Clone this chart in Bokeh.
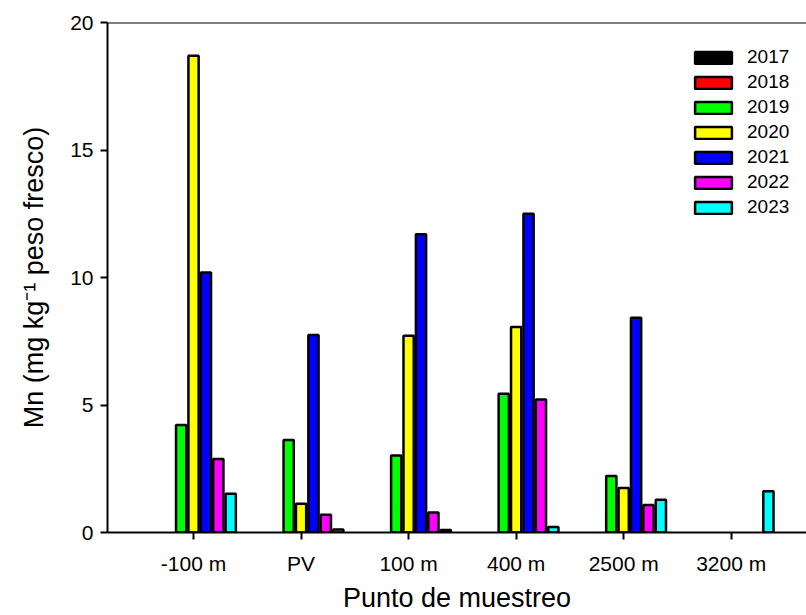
import numpy as np
from bokeh.plotting import figure
from bokeh.models import Range1d, FixedTicker, Span, Legend, LegendItem
from bokeh.embed import file_html
from bokeh.resources import INLINE

# ---- data ----
sites = ["-100 m", "PV", "100 m", "400 m", "2500 m", "3200 m"]
years = ["2017", "2018", "2019", "2020", "2021", "2022", "2023"]
nan = float("nan")
mn_2017 = [nan, nan, nan, nan, nan, nan]
mn_2018 = [nan, nan, nan, nan, nan, nan]
mn_2019 = [4.22, 3.63, 3.02, 5.44, 2.22, nan]
mn_2020 = [18.70, 1.13, 7.72, 8.06, 1.75, nan]
mn_2021 = [10.20, 7.75, 11.70, 12.50, 8.42, nan]
mn_2022 = [2.88, 0.70, 0.78, 5.22, 1.08, nan]
mn_2023 = [1.52, 0.12, 0.10, 0.22, 1.28, 1.62]
series = [mn_2017, mn_2018, mn_2019, mn_2020, mn_2021, mn_2022, mn_2023]
colors = ["#000000", "#ff0000", "#00ff00", "#ffff00", "#0000ff", "#ff00ff", "#00ffff"]

FONT = "Liberation Sans"

p = figure(width=806, height=615, output_backend="svg", toolbar_location=None,
           x_range=Range1d(0.2, 6.7), y_range=Range1d(0, 20),
           min_border_left=107, min_border_right=0, min_border_top=22,
           min_border_bottom=82)
p.outline_line_color = None
p.grid.grid_line_color = None
p.background_fill_color = "white"

pos = np.arange(1, len(sites) + 1)
pitch = 0.1153
bw = 0.095
items = []
for i, (yr, vals, c) in enumerate(zip(years, series, colors)):
    xs = pos + (i - 3) * pitch
    r = p.vbar(x=xs, top=vals, bottom=0, width=bw, fill_color=c,
               line_color="black", line_width=2.5)
    items.append(LegendItem(label=yr, renderers=[r]))

legend = Legend(items=items, location=(583, 314), padding=0, margin=0,
                border_line_color=None, background_fill_alpha=0,
                glyph_width=46, glyph_height=15, spacing=3, label_standoff=11,
                label_text_font=FONT, label_text_font_size="19px",
                label_text_color="black")
p.add_layout(legend, "center")

p.add_layout(Span(location=20, dimension="width", line_color="black", line_width=2))

p.xaxis.ticker = FixedTicker(ticks=list(pos))
p.xaxis.major_label_overrides = {int(k): s for k, s in zip(pos, sites)}
p.yaxis.ticker = FixedTicker(ticks=[0, 5, 10, 15, 20])

for ax in (p.xaxis, p.yaxis):
    ax.axis_line_width = 2
    ax.major_tick_line_width = 2
    ax.major_tick_out = 7
    ax.major_tick_in = 0
    ax.minor_tick_line_color = None
    ax.major_label_text_font = FONT
    ax.major_label_text_font_size = "21px"
    ax.major_label_text_color = "black"
    ax.axis_label_text_font = FONT
    ax.axis_label_text_font_style = "normal"
    ax.axis_label_text_font_size = "27px"
    ax.axis_label_text_color = "black"

p.xaxis.axis_label = "Punto de muestreo"
p.yaxis.axis_label = "Mn (mg kg\u207b\u00b9 peso fresco)"
p.xaxis.major_label_standoff = 12
p.xaxis.axis_label_standoff = 5
p.yaxis.major_label_standoff = 7
p.yaxis.axis_label_standoff = 18

open("out.html", "w").write(file_html(p, INLINE))
